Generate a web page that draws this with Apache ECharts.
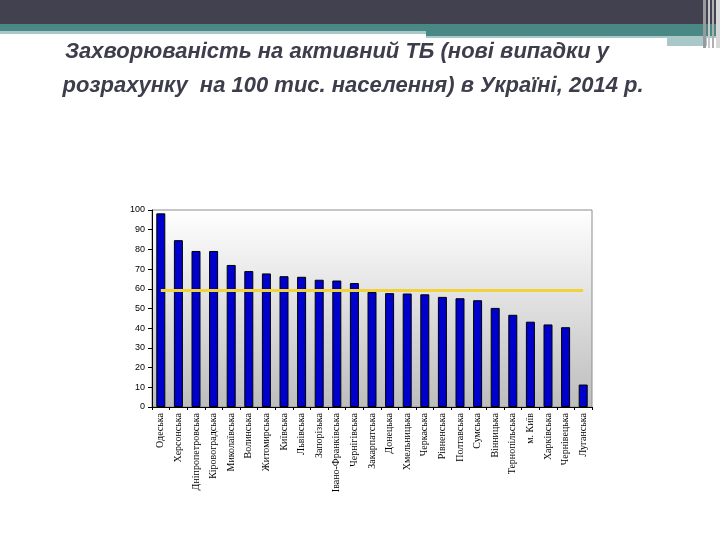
<!DOCTYPE html>
<html>
<head>
<meta charset="utf-8">
<script src="https://cdn.jsdelivr.net/npm/echarts@6/dist/echarts.min.js"></script>
<style>
  html, body { margin: 0; padding: 0; background: #ffffff; }
  #chart { width: 720px; height: 540px; }
</style>
</head>
<body>
<div id="chart"></div>
<script>
const regions = [
  "Одеська", "Херсонська", "Дніпропетровська", "Кіровоградська", "Миколаївська",
  "Волинська", "Житомирська", "Київська", "Львівська", "Запорізька",
  "Івано-Франківська", "Чернігівська", "Закарпатська", "Донецька", "Хмельницька",
  "Черкаська", "Рівненська", "Полтавська", "Сумська", "Вінницька",
  "Тернопільська", "м. Київ", "Харківська", "Чернівецька", "Луганська"
];
const incidence = [
  98.3, 84.7, 79.2, 79.2, 72.1,
  69.0, 67.8, 66.4, 66.1, 64.6,
  64.2, 62.9, 58.4, 57.8, 57.6,
  57.2, 55.9, 55.2, 54.2, 50.3,
  46.8, 43.3, 41.9, 40.5, 11.4
];
const ukraineAverage = 59.5;
const yTicks = [0, 10, 20, 30, 40, 50, 60, 70, 80, 90, 100];

const titleLines = [
  "Захворюваність на активний ТБ (нові випадки у",
  "розрахунку  на 100 тис. населення) в Україні, 2014 р."
];
const titleFont = "italic bold 22px 'Liberation Sans', sans-serif";

let mychart = echarts.init(document.getElementById("chart"));

const option = {
  backgroundColor: "#ffffff",
  animation: false,
  graphic: [
    // slide header
    { type: "rect", shape: { x: 0, y: 0, width: 720, height: 25 }, style: { fill: "#41414f" } },
    { type: "rect", shape: { x: 0, y: 24, width: 720, height: 7 }, style: { fill: "#4a8886" } },
    { type: "rect", shape: { x: 0, y: 31, width: 426, height: 3 }, style: { fill: "#a9c9c8" } },
    { type: "rect", shape: { x: 426, y: 31, width: 294, height: 5 }, style: { fill: "#4a8886" } },
    { type: "rect", shape: { x: 426, y: 36, width: 294, height: 2 }, style: { fill: "#a9c9c8" } },
    { type: "rect", shape: { x: 426, y: 38, width: 241, height: 2 }, style: { fill: "#ffffff" } },
    { type: "rect", shape: { x: 667, y: 38, width: 40, height: 8 }, style: { fill: "#a9c9c8" } },
    { type: "rect", shape: { x: 703, y: 0, width: 3, height: 48 }, style: { fill: "#9a9a9a" } },
    { type: "rect", shape: { x: 708, y: 0, width: 2, height: 48 }, style: { fill: "#c8c8c8" } },
    { type: "rect", shape: { x: 712, y: 0, width: 2, height: 48 }, style: { fill: "#b0b0b0" } },
    { type: "rect", shape: { x: 716, y: 0, width: 4, height: 48 }, style: { fill: "#d8d8d8" } },
    {
      type: "text", x: 337, y: 41,
      style: { text: titleLines[0], fill: "#3d3d4b", font: titleFont, textAlign: "center" }
    },
    {
      type: "text", x: 353, y: 75,
      style: { text: titleLines[1], fill: "#3d3d4b", font: titleFont, textAlign: "center" }
    }
  ],
  grid: {
    left: 152,
    right: 128,
    top: 210,
    bottom: 133,
    show: true,
    borderColor: "#8c8c8c",
    borderWidth: 1,
    backgroundColor: new echarts.graphic.LinearGradient(0, 0, 0, 1, [
      { offset: 0, color: "#ffffff" },
      { offset: 1, color: "#bdbdbd" }
    ])
  },
  xAxis: {
    type: "category",
    data: regions,
    axisLine: { lineStyle: { color: "#000000", width: 1 } },
    axisTick: { show: true, length: 3, lineStyle: { color: "#000000" } },
    axisLabel: {
      interval: 0,
      rotate: 90,
      margin: 6,
      fontSize: 10,
      fontFamily: "'Liberation Serif', serif",
      color: "#000000"
    },
    splitLine: { show: false }
  },
  yAxis: {
    type: "value",
    min: yTicks[0],
    max: yTicks[yTicks.length - 1],
    interval: 10,
    axisLine: { show: true, lineStyle: { color: "#000000", width: 1 } },
    axisTick: { show: true, length: 4, lineStyle: { color: "#000000" } },
    axisLabel: {
      fontSize: 9,
      margin: 7,
      fontFamily: "'Liberation Sans', sans-serif",
      color: "#000000"
    },
    splitLine: { show: false }
  },
  series: [
    {
      name: "Захворюваність",
      type: "bar",
      data: incidence,
      barWidth: 9,
      itemStyle: {
        color: "#0000cc",
        borderColor: "#000000",
        borderWidth: 1
      },
      markLine: {
        symbol: "none",
        silent: true,
        label: { show: false },
        lineStyle: { color: "#f2d23a", width: 3, type: "solid" },
        data: [
          [
            { coord: [regions[0], ukraineAverage] },
            { coord: [regions[regions.length - 1], ukraineAverage] }
          ]
        ]
      }
    }
  ]
};
mychart.setOption(option);
</script>
</body>
</html>
